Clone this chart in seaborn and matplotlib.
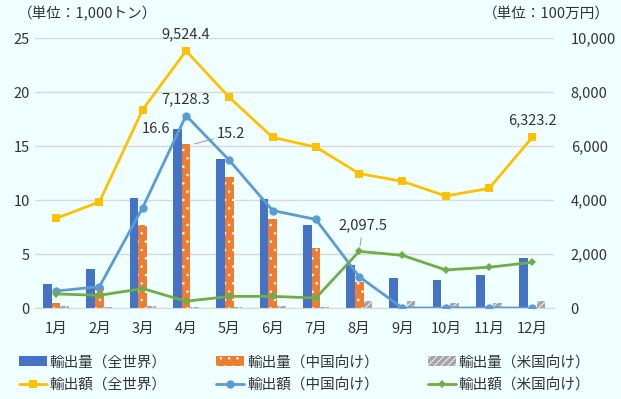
import numpy as np
import pandas as pd
import matplotlib
matplotlib.use("Agg")
import matplotlib.pyplot as plt
from matplotlib.patches import Patch
from matplotlib.lines import Line2D
import seaborn as sns

months = ["1月", "2月", "3月", "4月", "5月", "6月", "7月", "8月", "9月", "10月", "11月", "12月"]

# 輸出量 (1,000トン)
vol_world = [2.2, 3.6, 10.2, 16.6, 13.8, 10.1, 7.7, 4.0, 2.8, 2.6, 3.05, 4.6]
vol_china = [0.5, 1.9, 7.7, 15.2, 12.1, 8.2, 5.6, 2.4, 0, 0, 0, 0]
vol_us = [0.2, 0.1, 0.2, 0.1, 0.1, 0.2, 0.1, 0.65, 0.65, 0.45, 0.5, 0.65]

# 輸出額 (100万円)
val_world = [3320, 3930, 7350, 9524.4, 7800, 6320, 5960, 4980, 4690, 4150, 4430, 6323.2]
val_china = [630, 790, 3720, 7128.3, 5470, 3610, 3280, 1160, 0, 0, 0, 0]
val_us = [520, 470, 720, 250, 430, 430, 370, 2097.5, 1950, 1410, 1510, 1690]

vol_labels = ["輸出量（全世界）", "輸出量（中国向け）", "輸出量（米国向け）"]
val_labels = ["輸出額（全世界）", "輸出額（中国向け）", "輸出額（米国向け）"]

bg = "#F0FFFF"
txt = "#333333"
grid = "#D9D9D9"
bar_colors = ["#4472C4", "#ED7D31", "#A5A5A5"]
line_colors = ["#FFC000", "#5B9BD5", "#70AD47"]

sns.set_style("white")
plt.rcParams["font.family"] = ["Noto Sans CJK JP", "DejaVu Sans"]
plt.rcParams["hatch.linewidth"] = 0.6

df = pd.DataFrame({
    "month": months * 3,
    "value": vol_world + vol_china + vol_us,
    "series": [vol_labels[0]] * 12 + [vol_labels[1]] * 12 + [vol_labels[2]] * 12,
})

fig = plt.figure(figsize=(6.21, 3.99), dpi=100, facecolor=bg)
ax = fig.add_axes([34.5 / 621, 1 - 308 / 399, (554 - 34.5) / 621, 270 / 399])
ax.set_facecolor(bg)

sns.barplot(data=df, x="month", y="value", hue="series", palette=bar_colors,
            width=0.6, gap=0, ax=ax, legend=False, saturation=1)

hatches = [None, "..", "/////"]
for cont, h in zip(ax.containers, hatches):
    for p in cont:
        p.set_linewidth(0)
        if h:
            p.set_hatch(h)
            p.set_edgecolor("white")

ax.set_ylim(0, 25)
ax.set_xlim(-0.5, 11.5)
ax.set_yticks([0, 5, 10, 15, 20, 25])
ax.yaxis.grid(True, color=grid, linewidth=1)
ax.set_axisbelow(True)
for s in ["top", "right", "left"]:
    ax.spines[s].set_visible(False)
ax.spines["bottom"].set_color(grid)
ax.tick_params(length=0, labelsize=10.5, colors=txt)
ax.tick_params(axis="x", pad=10)
ax.set_xlabel("")
ax.set_ylabel("")

ax2 = ax.twinx()
x = np.arange(12)
sns.lineplot(x=x, y=val_world, ax=ax2, color=line_colors[0], linewidth=2,
             marker="s", markersize=6, markeredgewidth=0)
sns.lineplot(x=x, y=val_china, ax=ax2, color=line_colors[1], linewidth=2,
             marker="o", markersize=6, markeredgewidth=0)
sns.lineplot(x=x, y=val_us, ax=ax2, color=line_colors[2], linewidth=2,
             marker="D", markersize=4, markeredgewidth=0)
ax2.set_ylim(0, 10000)
ax2.set_yticks([0, 2000, 4000, 6000, 8000, 10000])
ax2.yaxis.set_major_formatter(matplotlib.ticker.FuncFormatter(lambda v, p: f"{v:,.0f}"))
for s in ["top", "right", "left", "bottom"]:
    ax2.spines[s].set_visible(False)
ax2.tick_params(length=0, labelsize=10.5, colors=txt, pad=12)
ax2.set_xlim(-0.5, 11.5)

# data labels
ax.annotate("16.6", (2.7, vol_world[3]), xytext=(-2, 0), textcoords="offset points",
            ha="right", va="center", fontsize=10.5, color=txt)
ax.annotate("15.2", (3.2, vol_china[3]), xytext=(16, 7), textcoords="offset points",
            ha="left", va="center", fontsize=10.5, color=txt,
            arrowprops=dict(arrowstyle="-", color="#A6A6A6", lw=0.8, shrinkA=0, shrinkB=0))
for i in [3, 11]:
    ax2.annotate(f"{val_world[i]:,.1f}", (i, val_world[i]), xytext=(0, 7), textcoords="offset points",
                 ha="center", va="bottom", fontsize=10.5, color=txt)
ax2.annotate(f"{val_china[3]:,.1f}", (3, val_china[3]), xytext=(0, 7), textcoords="offset points",
             ha="center", va="bottom", fontsize=10.5, color=txt)
ax2.annotate(f"{val_us[7]:,.1f}", (7, val_us[7]), xytext=(3, 14), textcoords="offset points",
             ha="center", va="bottom", fontsize=10.5, color=txt,
             arrowprops=dict(arrowstyle="-", color="#A6A6A6", lw=0.8, shrinkA=2, shrinkB=4))

fig.text(18 / 621, 1 - 14 / 399, "（単位：1,000トン）", ha="left", va="center", fontsize=10.5, color=txt)
fig.text(610 / 621, 1 - 14 / 399, "（単位：100万円）", ha="right", va="center", fontsize=10.5, color=txt)

handles = []
labels = []
for i in range(3):
    handles.append(Patch(facecolor=bar_colors[i], edgecolor="white" if hatches[i] else bar_colors[i],
                         hatch=hatches[i], linewidth=0))
    labels.append(vol_labels[i])
    mk = ["s", "o", "D"][i]
    handles.append(Line2D([0], [0], color=line_colors[i], linewidth=2, marker=mk,
                          markersize=6 if i < 2 else 4, markeredgewidth=0))
    labels.append(val_labels[i])

fig.legend(handles, labels, loc="upper left", bbox_to_anchor=(6 / 621, 1 - 342 / 399),
           ncol=3, frameon=False, fontsize=10.5, labelcolor=txt, handlelength=1.9,
           handletextpad=0.2, columnspacing=3.4, labelspacing=0.6)

fig.savefig("out.png", dpi=100, facecolor=bg)
